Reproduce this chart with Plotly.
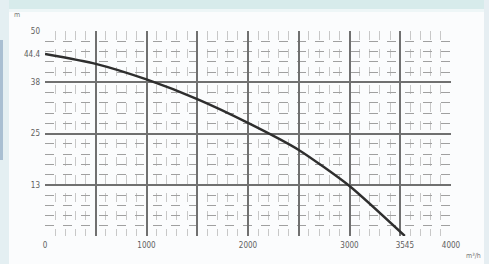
import plotly.graph_objects as go

# ---- data ----
flow = [0, 500, 1000, 1500, 2000, 2500, 3000, 3545]          # flow
head = [44.4, 42.0, 38.2, 33.4, 27.6, 21.0, 12.2, 0.0]        # head (m)

x_tick_vals = [0, 1000, 2000, 3000, 3545, 4000]
x_tick_text = ["0", "1000", "2000", "3000", "3545", "4000"]
y_tick_vals = [12.5, 25, 37.5, 44.4, 50]
y_tick_text = ["13", "25", "38", "44.4", "50"]

x_range = [0, 4000]
y_range = [0, 50]

W, H = 489, 264
ML, MR, MT, MB = 45, 38, 31, 28
PW, PH = W - ML - MR, H - MT - MB


def px(x):
    return (x - ML) / PW


def py(y):
    return (H - MB - y) / PH


fig = go.Figure()
fig.add_trace(go.Scatter(
    x=flow, y=head, mode="lines",
    line=dict(color="#2e2e2e", width=2.4, shape="spline", smoothing=0.6),
    hoverinfo="skip", showlegend=False,
))
# empty trace so the label axes exist
fig.add_trace(go.Scatter(x=[], y=[], xaxis="x2", yaxis="y2", showlegend=False))

tick_font = dict(family="DejaVu Sans Condensed, DejaVu Sans", size=8, color="#606060")

fig.update_layout(
    width=W, height=H,
    margin=dict(l=ML, r=MR, t=MT, b=MB, pad=0, autoexpand=False),
    paper_bgcolor="#fbfcfd",
    plot_bgcolor="#fbfcfd",
    xaxis=dict(
        range=x_range, dtick=500, tick0=0, showticklabels=False,
        showgrid=True, gridcolor="#707070", gridwidth=1.5,
        zeroline=False, showline=False, ticks="",
        minor=dict(dtick=100, tick0=0, showgrid=True, gridcolor="#c8c8c8",
                   gridwidth=1, griddash="dash"),
    ),
    yaxis=dict(
        range=y_range, dtick=12.5, tick0=0, showticklabels=False,
        showgrid=True, gridcolor="#707070", gridwidth=1.5,
        zeroline=False, showline=False, ticks="",
        minor=dict(dtick=2.5, tick0=0, showgrid=True, gridcolor="#a0a0a0",
                   gridwidth=1, griddash="dash"),
    ),
    xaxis2=dict(
        range=x_range, overlaying="x", anchor="y", side="bottom",
        tickvals=x_tick_vals, ticktext=x_tick_text, tickfont=tick_font,
        showgrid=False, zeroline=False, showline=False, ticks="",
        ticklabelstandoff=3,
    ),
    yaxis2=dict(
        range=y_range, overlaying="y", anchor="x", side="left",
        tickvals=y_tick_vals, ticktext=y_tick_text, tickfont=tick_font,
        showgrid=False, zeroline=False, showline=False, ticks="",
        ticklabelstandoff=4,
    ),
    shapes=[
        # top teal band
        dict(type="rect", xref="paper", yref="paper", layer="below",
             x0=px(0), x1=px(W), y0=py(0), y1=py(9),
             fillcolor="#d7ebeb", line=dict(width=0)),
        dict(type="rect", xref="paper", yref="paper", layer="below",
             x0=px(0), x1=px(W), y0=py(9), y1=py(12),
             fillcolor="#eef6f7", line=dict(width=0)),
        # left strip
        dict(type="rect", xref="paper", yref="paper", layer="below",
             x0=px(0), x1=px(9), y0=py(0), y1=py(H),
             fillcolor="#e4eff2", line=dict(width=0)),
        dict(type="rect", xref="paper", yref="paper", layer="below",
             x0=px(0), x1=px(3), y0=py(40), y1=py(160),
             fillcolor="#a9bfd2", line=dict(width=0)),
        # right strip
        dict(type="rect", xref="paper", yref="paper", layer="below",
             x0=px(484), x1=px(W), y0=py(0), y1=py(H),
             fillcolor="#e6eef2", line=dict(width=0)),
    ],
    annotations=[
        dict(text="m", xref="paper", yref="paper", x=px(12), y=py(15),
             xanchor="left", yanchor="middle", showarrow=False,
             font=dict(family="DejaVu Sans Condensed, DejaVu Sans", size=7, color="#777777")),
        dict(text="m³/h", xref="paper", yref="paper", x=px(483), y=py(256),
             xanchor="right", yanchor="middle", showarrow=False,
             font=dict(family="DejaVu Sans Condensed, DejaVu Sans", size=7, color="#777777")),
    ],
)

fig.write_html(
    "out.html",
    config={"displayModeBar": False},
    post_script="document.body.style.margin='0';document.body.style.overflow='hidden';",
)
